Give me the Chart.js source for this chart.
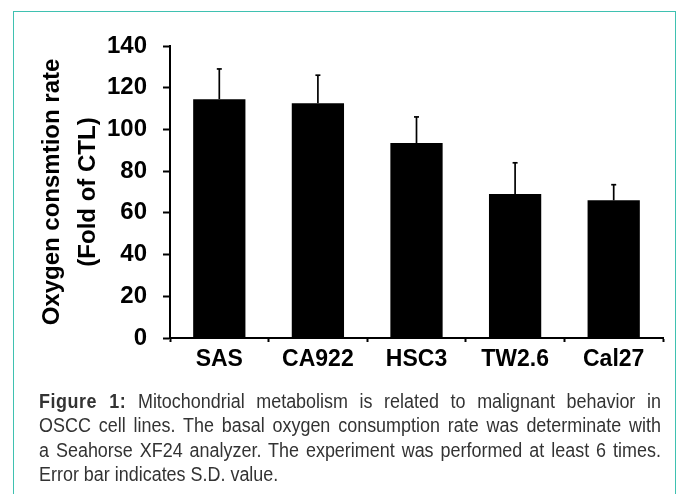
<!DOCTYPE html>
<html>
<head>
<meta charset="utf-8">
<script src="https://cdn.jsdelivr.net/npm/chart.js@4.4.1/dist/chart.umd.min.js"></script>
<style>
  html, body { margin: 0; padding: 0; background: #fff; width: 681px; height: 494px; overflow: hidden; }
  #frame { position: absolute; left: 13px; top: 11px; width: 663px; height: 520px; border: 1.5px solid #3fc1b1; box-sizing: border-box; }
  #wrap { position: absolute; left: 0; top: 0; width: 681px; height: 390px; }
  #caption { position: absolute; left: 39px; top: 388.5px; width: 676px; transform: scaleX(0.92); transform-origin: 0 0; font-family: "Liberation Sans", Arial, sans-serif; font-size: 19.5px; line-height: 24.6px; color: #333; }
  #caption .j { text-align: justify; text-align-last: justify; white-space: nowrap; }
  #caption b { color: #333; letter-spacing: 0.6px; }
</style>
</head>
<body>
<div id="frame"></div>
<div id="wrap"><canvas id="c" width="681" height="390"></canvas></div>
<div id="caption">
  <div class="j"><b>Figure 1:</b> Mitochondrial metabolism is related to malignant behavior in</div>
  <div class="j">OSCC cell lines. The basal oxygen consumption rate was determinate with</div>
  <div class="j">a Seahorse XF24 analyzer. The experiment was performed at least 6 times.</div>
  <div>Error bar indicates S.D. value.</div>
</div>
<script>
const categories = ["SAS", "CA922", "HSC3", "TW2.6", "Cal27"];
const meanValues = [114.5, 112.5, 93.5, 69, 66];
const sdValues = [14.5, 13.5, 12.5, 15, 7.5];
const yTitleLines = ["Oxygen consmtion rate", "(Fold of CTL)"];

const errorBars = {
  id: 'errorBars',
  afterDatasetsDraw(chart) {
    const ctx = chart.ctx;
    const yScale = chart.scales.y;
    const meta = chart.getDatasetMeta(0);
    ctx.save();
    ctx.strokeStyle = '#000';
    ctx.lineWidth = 1.7;
    meta.data.forEach((bar, i) => {
      const x = bar.x;
      const yBase = bar.y;
      const yTop = yScale.getPixelForValue(meanValues[i] + sdValues[i]);
      ctx.beginPath();
      ctx.moveTo(x, yBase);
      ctx.lineTo(x, yTop);
      ctx.stroke();
      ctx.beginPath();
      ctx.moveTo(x - 2.5, yTop);
      ctx.lineTo(x + 2.5, yTop);
      ctx.stroke();
    });
    ctx.restore();
  }
};

new Chart(document.getElementById('c'), {
  type: 'bar',
  data: {
    labels: categories,
    datasets: [{
      data: meanValues,
      backgroundColor: '#000',
      borderWidth: 0,
      barPercentage: 0.53,
      categoryPercentage: 1.0
    }]
  },
  options: {
    responsive: false,
    animation: false,
    devicePixelRatio: 1,
    layout: { padding: { top: 46, right: 18, left: 0, bottom: 0 } },
    plugins: { legend: { display: false }, tooltip: { enabled: false } },
    scales: {
      x: {
        afterFit(scale) { scale.height = 52; },
        grid: { display: true, drawOnChartArea: false, drawTicks: true, tickLength: 4, tickWidth: 2, tickColor: '#000', offset: true },
        border: { display: true, color: '#000', width: 2 },
        ticks: { color: '#000', padding: 4, font: { family: 'Liberation Sans, Arial, sans-serif', size: 23, weight: 'bold' } }
      },
      y: {
        min: 0, max: 140,
        afterFit(scale) { scale.width = 170; },
        grid: { display: true, drawOnChartArea: false, drawTicks: true, tickLength: 7, tickWidth: 2, tickColor: '#000' },
        border: { display: true, color: '#000', width: 2 },
        ticks: { stepSize: 20, color: '#000', padding: 16, font: { family: 'Liberation Sans, Arial, sans-serif', size: 24, weight: 'bold' } },
        title: {
          display: true,
          text: yTitleLines,
          color: '#000',
          padding: { top: 34, bottom: 0 },
          font: { family: 'Liberation Sans, Arial, sans-serif', size: 24, weight: 'bold', lineHeight: 1.5 }
        }
      }
    }
  },
  plugins: [errorBars]
});
</script>
</body>
</html>
